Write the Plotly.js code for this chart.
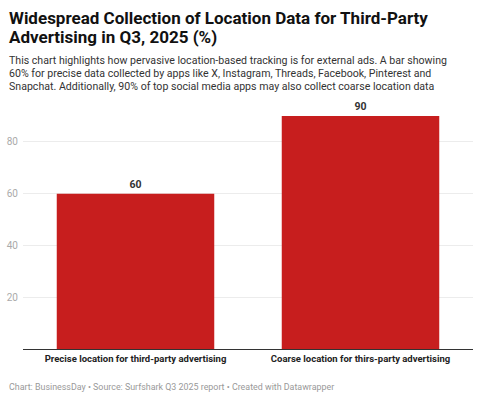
<!DOCTYPE html>
<html>
<head>
<meta charset="utf-8">
<script src="https://cdn.plot.ly/plotly-3.0.1.min.js"></script>
<style>
  html, body { margin: 0; padding: 0; background: #fff; }
  #chart { width: 482px; height: 400px; }
</style>
</head>
<body>
<div id="chart"></div>
<script>
// Share of apps collecting location data for third-party ads (%)
const categories = [
  "Precise location for third-party advertising",
  "Coarse location for thirs-party advertising"
];
const shares = [60, 90];
const yTickValues = [20, 40, 60, 80];
const yTickLabels = ["20", "40", "60", "80"];

const titleLines = [
  "Widespread Collection of Location Data for Third-Party",
  "Advertising in Q3, 2025 (%)"
];
const subtitleLines = [
  "This chart highlights how pervasive location-based tracking is for external ads. A bar showing",
  "60% for precise data collected by apps like X, Instagram, Threads, Facebook, Pinterest and",
  "Snapchat. Additionally, 90% of top social media apps may also collect coarse location data"
];
const footerText = "Chart: BusinessDay • Source: Surfshark Q3 2025 report • Created with Datawrapper";

const W = 482, H = 400;
const M = { l: 23, r: 9, t: 116, b: 51 };
const plotW = W - M.l - M.r, plotH = H - M.t - M.b;
// pixel -> paper helpers for the text blocks around the plot
const px = x => (x - M.l) / plotW;
const py = y => (H - M.b - y) / plotH;

const font = "Roboto, 'Noto Sans', Arial, sans-serif";

function textLine(text, xPix, yMid, size, color, bold) {
  return {
    xref: "paper", yref: "paper", x: px(xPix), y: py(yMid),
    xanchor: "left", yanchor: "middle", align: "left",
    text: bold ? "<b>" + text + "</b>" : text,
    showarrow: false,
    font: { family: font, size: size, color: color }
  };
}

const trace = {
  type: "bar",
  x: categories,
  y: shares,
  marker: { color: "#c71e1e" },
  width: 0.7,
  text: shares.map(String),
  texttemplate: "<b>%{text}</b>",
  textposition: "outside",
  textfont: { family: font, size: 10.5, color: "#333" },
  cliponaxis: false,
  hoverinfo: "skip"
};

const annotations = [];
titleLines.forEach((t, i) => annotations.push(textLine(t, 7, 17.5 + i * 19.4, 17, "#111", true)));
subtitleLines.forEach((t, i) => annotations.push(textLine(t, 7, 60.8 + i * 12.8, 10.6, "#333", false)));
annotations.push(textLine(footerText, 7, 386.5, 8.9, "#999", false));

const layout = {
  width: W, height: H,
  margin: M,
  paper_bgcolor: "#fff",
  plot_bgcolor: "#fff",
  showlegend: false,
  font: { family: font },
  xaxis: {
    type: "category",
    showgrid: false,
    showline: true,
    linecolor: "#333",
    linewidth: 1,
    ticks: "",
    tickfont: { family: font, size: 9.5, color: "#222", weight: "bold" },
    ticklabelstandoff: 1,
    fixedrange: true
  },
  yaxis: {
    range: [0, 90],
    tickvals: yTickValues,
    ticktext: yTickLabels,
    showgrid: true,
    gridcolor: "#ececec",
    gridwidth: 1,
    zeroline: false,
    showline: false,
    ticks: "",
    tickfont: { family: font, size: 10, color: "#aaa" },
    ticklabelstandoff: 4,
    fixedrange: true
  },
  annotations: annotations
};

Plotly.newPlot("chart", [trace], layout, { displayModeBar: false, staticPlot: true });
</script>
</body>
</html>
